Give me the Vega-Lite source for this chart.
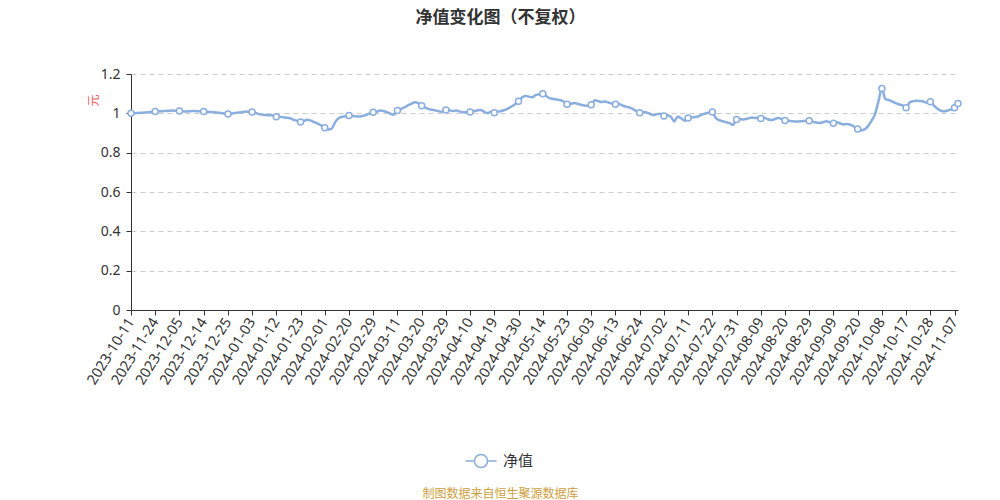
{
  "$schema": "https://vega.github.io/schema/vega-lite/v6.json",
  "width": 827,
  "height": 236,
  "autosize": {"type": "none"},
  "padding": {"left": 131, "top": 74, "right": 42, "bottom": 190},
  "background": "white",
  "config": {
    "font": "'Noto Sans', 'Noto Sans CJK SC', sans-serif",
    "view": {"stroke": null}
  },
  "title": {
    "text": "净值变化图（不复权）",
    "anchor": "middle",
    "frame": "group",
    "dx": -44,
    "offset": 40,
    "fontSize": 17,
    "fontWeight": "bold",
    "font": "'Noto Sans CJK SC', sans-serif",
    "color": "#333333"
  },
  "data": {
    "values": [
      {"date": "2023-10-11", "nav": 1.000}, {"date": "2023-10-13", "nav": 1.001}, {"date": "2023-10-20", "nav": 1.002},
      {"date": "2023-10-27", "nav": 1.003}, {"date": "2023-11-03", "nav": 1.004}, {"date": "2023-11-10", "nav": 1.005},
      {"date": "2023-11-17", "nav": 1.007}, {"date": "2023-11-24", "nav": 1.009}, {"date": "2023-11-27", "nav": 1.010},
      {"date": "2023-11-28", "nav": 1.011}, {"date": "2023-11-29", "nav": 1.012}, {"date": "2023-11-30", "nav": 1.013},
      {"date": "2023-12-01", "nav": 1.014}, {"date": "2023-12-04", "nav": 1.013}, {"date": "2023-12-05", "nav": 1.012},
      {"date": "2023-12-06", "nav": 1.010}, {"date": "2023-12-07", "nav": 1.009}, {"date": "2023-12-08", "nav": 1.011},
      {"date": "2023-12-11", "nav": 1.012}, {"date": "2023-12-12", "nav": 1.011}, {"date": "2023-12-13", "nav": 1.010},
      {"date": "2023-12-14", "nav": 1.009}, {"date": "2023-12-15", "nav": 1.008}, {"date": "2023-12-18", "nav": 1.007},
      {"date": "2023-12-19", "nav": 1.006}, {"date": "2023-12-20", "nav": 1.004}, {"date": "2023-12-21", "nav": 1.002},
      {"date": "2023-12-22", "nav": 0.999}, {"date": "2023-12-25", "nav": 0.997}, {"date": "2023-12-26", "nav": 0.999},
      {"date": "2023-12-27", "nav": 1.002}, {"date": "2023-12-28", "nav": 1.004}, {"date": "2023-12-29", "nav": 1.006},
      {"date": "2023-12-31", "nav": 1.009}, {"date": "2024-01-02", "nav": 1.008}, {"date": "2024-01-03", "nav": 1.007},
      {"date": "2024-01-04", "nav": 1.002}, {"date": "2024-01-05", "nav": 0.996}, {"date": "2024-01-08", "nav": 0.993},
      {"date": "2024-01-09", "nav": 0.991}, {"date": "2024-01-10", "nav": 0.990}, {"date": "2024-01-11", "nav": 0.989},
      {"date": "2024-01-12", "nav": 0.983}, {"date": "2024-01-15", "nav": 0.982}, {"date": "2024-01-16", "nav": 0.980},
      {"date": "2024-01-17", "nav": 0.978}, {"date": "2024-01-18", "nav": 0.975}, {"date": "2024-01-19", "nav": 0.967},
      {"date": "2024-01-22", "nav": 0.962}, {"date": "2024-01-23", "nav": 0.956}, {"date": "2024-01-24", "nav": 0.962},
      {"date": "2024-01-25", "nav": 0.968}, {"date": "2024-01-26", "nav": 0.963}, {"date": "2024-01-29", "nav": 0.955},
      {"date": "2024-01-30", "nav": 0.948}, {"date": "2024-01-31", "nav": 0.938}, {"date": "2024-02-01", "nav": 0.927},
      {"date": "2024-02-02", "nav": 0.918}, {"date": "2024-02-05", "nav": 0.922}, {"date": "2024-02-06", "nav": 0.955},
      {"date": "2024-02-07", "nav": 0.975}, {"date": "2024-02-08", "nav": 0.983}, {"date": "2024-02-19", "nav": 0.985},
      {"date": "2024-02-20", "nav": 0.989}, {"date": "2024-02-21", "nav": 0.987}, {"date": "2024-02-22", "nav": 0.985},
      {"date": "2024-02-23", "nav": 0.984}, {"date": "2024-02-26", "nav": 0.986}, {"date": "2024-02-27", "nav": 0.992},
      {"date": "2024-02-28", "nav": 0.999}, {"date": "2024-02-29", "nav": 1.005}, {"date": "2024-03-01", "nav": 1.008},
      {"date": "2024-03-04", "nav": 1.014}, {"date": "2024-03-05", "nav": 1.012}, {"date": "2024-03-06", "nav": 1.006},
      {"date": "2024-03-07", "nav": 0.998}, {"date": "2024-03-08", "nav": 0.993}, {"date": "2024-03-11", "nav": 1.015},
      {"date": "2024-03-12", "nav": 1.022}, {"date": "2024-03-13", "nav": 1.030}, {"date": "2024-03-14", "nav": 1.040},
      {"date": "2024-03-15", "nav": 1.048}, {"date": "2024-03-18", "nav": 1.056}, {"date": "2024-03-19", "nav": 1.052},
      {"date": "2024-03-20", "nav": 1.039}, {"date": "2024-03-21", "nav": 1.030}, {"date": "2024-03-22", "nav": 1.022},
      {"date": "2024-03-25", "nav": 1.018}, {"date": "2024-03-26", "nav": 1.015}, {"date": "2024-03-27", "nav": 1.010},
      {"date": "2024-03-28", "nav": 1.008}, {"date": "2024-03-29", "nav": 1.017}, {"date": "2024-03-31", "nav": 1.016},
      {"date": "2024-04-01", "nav": 1.012}, {"date": "2024-04-02", "nav": 1.014}, {"date": "2024-04-03", "nav": 1.009},
      {"date": "2024-04-08", "nav": 1.005}, {"date": "2024-04-09", "nav": 1.006}, {"date": "2024-04-10", "nav": 1.007},
      {"date": "2024-04-11", "nav": 1.011}, {"date": "2024-04-12", "nav": 1.014}, {"date": "2024-04-15", "nav": 1.017},
      {"date": "2024-04-16", "nav": 1.009}, {"date": "2024-04-17", "nav": 1.001}, {"date": "2024-04-18", "nav": 1.008},
      {"date": "2024-04-19", "nav": 1.003}, {"date": "2024-04-22", "nav": 1.008}, {"date": "2024-04-23", "nav": 1.012},
      {"date": "2024-04-24", "nav": 1.017}, {"date": "2024-04-25", "nav": 1.025}, {"date": "2024-04-26", "nav": 1.035},
      {"date": "2024-04-29", "nav": 1.046}, {"date": "2024-04-30", "nav": 1.061}, {"date": "2024-05-06", "nav": 1.080},
      {"date": "2024-05-07", "nav": 1.088}, {"date": "2024-05-08", "nav": 1.085}, {"date": "2024-05-09", "nav": 1.082},
      {"date": "2024-05-10", "nav": 1.094}, {"date": "2024-05-13", "nav": 1.096}, {"date": "2024-05-14", "nav": 1.100},
      {"date": "2024-05-15", "nav": 1.088}, {"date": "2024-05-16", "nav": 1.077}, {"date": "2024-05-17", "nav": 1.073},
      {"date": "2024-05-20", "nav": 1.070}, {"date": "2024-05-21", "nav": 1.068}, {"date": "2024-05-22", "nav": 1.060},
      {"date": "2024-05-23", "nav": 1.046}, {"date": "2024-05-24", "nav": 1.048}, {"date": "2024-05-27", "nav": 1.052},
      {"date": "2024-05-28", "nav": 1.049}, {"date": "2024-05-29", "nav": 1.044}, {"date": "2024-05-30", "nav": 1.040},
      {"date": "2024-05-31", "nav": 1.038}, {"date": "2024-06-03", "nav": 1.044}, {"date": "2024-06-04", "nav": 1.066},
      {"date": "2024-06-05", "nav": 1.062}, {"date": "2024-06-06", "nav": 1.058}, {"date": "2024-06-07", "nav": 1.060},
      {"date": "2024-06-11", "nav": 1.055}, {"date": "2024-06-12", "nav": 1.050}, {"date": "2024-06-13", "nav": 1.046},
      {"date": "2024-06-14", "nav": 1.048}, {"date": "2024-06-17", "nav": 1.040}, {"date": "2024-06-18", "nav": 1.034},
      {"date": "2024-06-19", "nav": 1.030}, {"date": "2024-06-20", "nav": 1.022}, {"date": "2024-06-21", "nav": 1.012},
      {"date": "2024-06-24", "nav": 1.003}, {"date": "2024-06-25", "nav": 1.007}, {"date": "2024-06-26", "nav": 1.004},
      {"date": "2024-06-27", "nav": 0.998}, {"date": "2024-06-28", "nav": 0.991}, {"date": "2024-06-30", "nav": 0.996},
      {"date": "2024-07-01", "nav": 0.998}, {"date": "2024-07-02", "nav": 0.986}, {"date": "2024-07-03", "nav": 0.990},
      {"date": "2024-07-04", "nav": 0.983}, {"date": "2024-07-05", "nav": 0.959}, {"date": "2024-07-08", "nav": 0.983},
      {"date": "2024-07-09", "nav": 0.975}, {"date": "2024-07-10", "nav": 0.962}, {"date": "2024-07-11", "nav": 0.976},
      {"date": "2024-07-12", "nav": 0.980}, {"date": "2024-07-15", "nav": 0.981}, {"date": "2024-07-16", "nav": 0.985},
      {"date": "2024-07-17", "nav": 0.993}, {"date": "2024-07-18", "nav": 0.999}, {"date": "2024-07-19", "nav": 1.003},
      {"date": "2024-07-22", "nav": 1.007}, {"date": "2024-07-23", "nav": 0.976}, {"date": "2024-07-24", "nav": 0.965},
      {"date": "2024-07-25", "nav": 0.960}, {"date": "2024-07-26", "nav": 0.955}, {"date": "2024-07-29", "nav": 0.950},
      {"date": "2024-07-30", "nav": 0.941}, {"date": "2024-07-31", "nav": 0.969}, {"date": "2024-08-01", "nav": 0.970},
      {"date": "2024-08-02", "nav": 0.969}, {"date": "2024-08-05", "nav": 0.972}, {"date": "2024-08-06", "nav": 0.977},
      {"date": "2024-08-07", "nav": 0.978}, {"date": "2024-08-08", "nav": 0.976}, {"date": "2024-08-09", "nav": 0.974},
      {"date": "2024-08-12", "nav": 0.978}, {"date": "2024-08-13", "nav": 0.970}, {"date": "2024-08-14", "nav": 0.966},
      {"date": "2024-08-15", "nav": 0.970}, {"date": "2024-08-16", "nav": 0.976}, {"date": "2024-08-19", "nav": 0.972},
      {"date": "2024-08-20", "nav": 0.964}, {"date": "2024-08-21", "nav": 0.962}, {"date": "2024-08-22", "nav": 0.960},
      {"date": "2024-08-23", "nav": 0.958}, {"date": "2024-08-26", "nav": 0.959}, {"date": "2024-08-27", "nav": 0.960},
      {"date": "2024-08-28", "nav": 0.961}, {"date": "2024-08-29", "nav": 0.962}, {"date": "2024-08-30", "nav": 0.958},
      {"date": "2024-09-02", "nav": 0.953}, {"date": "2024-09-03", "nav": 0.951}, {"date": "2024-09-04", "nav": 0.955},
      {"date": "2024-09-05", "nav": 0.960}, {"date": "2024-09-06", "nav": 0.954}, {"date": "2024-09-09", "nav": 0.950},
      {"date": "2024-09-10", "nav": 0.955}, {"date": "2024-09-11", "nav": 0.948}, {"date": "2024-09-12", "nav": 0.944},
      {"date": "2024-09-13", "nav": 0.946}, {"date": "2024-09-18", "nav": 0.941}, {"date": "2024-09-19", "nav": 0.932},
      {"date": "2024-09-20", "nav": 0.920}, {"date": "2024-09-23", "nav": 0.913}, {"date": "2024-09-24", "nav": 0.918},
      {"date": "2024-09-25", "nav": 0.935}, {"date": "2024-09-26", "nav": 0.962}, {"date": "2024-09-27", "nav": 0.995},
      {"date": "2024-09-30", "nav": 1.060}, {"date": "2024-10-08", "nav": 1.126}, {"date": "2024-10-09", "nav": 1.072},
      {"date": "2024-10-10", "nav": 1.068}, {"date": "2024-10-11", "nav": 1.060}, {"date": "2024-10-14", "nav": 1.052},
      {"date": "2024-10-15", "nav": 1.045}, {"date": "2024-10-16", "nav": 1.040}, {"date": "2024-10-17", "nav": 1.028},
      {"date": "2024-10-18", "nav": 1.055}, {"date": "2024-10-21", "nav": 1.062}, {"date": "2024-10-22", "nav": 1.064},
      {"date": "2024-10-23", "nav": 1.063}, {"date": "2024-10-24", "nav": 1.060}, {"date": "2024-10-25", "nav": 1.054},
      {"date": "2024-10-28", "nav": 1.059}, {"date": "2024-10-29", "nav": 1.040}, {"date": "2024-10-30", "nav": 1.025},
      {"date": "2024-10-31", "nav": 1.014}, {"date": "2024-11-04", "nav": 1.010}, {"date": "2024-11-05", "nav": 1.014},
      {"date": "2024-11-06", "nav": 1.020}, {"date": "2024-11-07", "nav": 1.029}, {"date": "2024-11-08", "nav": 1.050}
    ]
  },
  "encoding": {
    "x": {
      "field": "date",
      "type": "ordinal",
      "sort": null,
      "scale": {"type": "point", "padding": 0},
      "axis": {
        "values": [
          "2023-10-11", "2023-11-24", "2023-12-05", "2023-12-14", "2023-12-25", "2024-01-03", "2024-01-12",
          "2024-01-23", "2024-02-01", "2024-02-20", "2024-02-29", "2024-03-11", "2024-03-20", "2024-03-29",
          "2024-04-10", "2024-04-19", "2024-04-30", "2024-05-14", "2024-05-23", "2024-06-03", "2024-06-13",
          "2024-06-24", "2024-07-02", "2024-07-11", "2024-07-22", "2024-07-31", "2024-08-09", "2024-08-20",
          "2024-08-29", "2024-09-09", "2024-09-20", "2024-10-08", "2024-10-17", "2024-10-28", "2024-11-07"
        ],
        "labelAngle": -58,
        "labelFontSize": 14.5,
        "labelColor": "#333333",
        "labelPadding": 4,
        "labelOverlap": false,
        "domainColor": "#333333",
        "domainWidth": 1,
        "tickColor": "#333333",
        "tickSize": 5,
        "grid": false,
        "title": "制图数据来自恒生聚源数据库",
        "titleColor": "#d0a040",
        "titleFont": "'Noto Sans CJK SC', sans-serif",
        "titleFontSize": 12,
        "titleFontWeight": "normal",
        "titleX": 369,
        "titleY": 183,
        "titleBaseline": "middle",
        "titleAlign": "center"
      }
    },
    "y": {
      "field": "nav",
      "type": "quantitative",
      "scale": {"domain": [0, 1.2], "nice": false, "zero": true},
      "axis": {
        "values": [0, 0.2, 0.4, 0.6, 0.8, 1, 1.2],
        "format": "~g",
        "labelFontSize": 14,
        "labelColor": "#333333",
        "labelPadding": 6,
        "domainColor": "#333333",
        "tickColor": "#333333",
        "tickSize": 5,
        "grid": true,
        "gridColor": "#cccccc",
        "gridDash": [5, 4],
        "title": "元",
        "titleColor": "#e85c5c",
        "titleFont": "'Noto Sans CJK SC', sans-serif",
        "titleFontSize": 12,
        "titleFontWeight": "normal",
        "titleX": -38,
        "titleY": 26,
        "titleAlign": "center",
        "titleBaseline": "middle"
      }
    }
  },
  "layer": [
    {
      "mark": {"type": "line", "interpolate": "monotone", "strokeWidth": 2.5},
      "encoding": {
        "color": {
          "datum": "净值",
          "type": "nominal",
          "scale": {"range": ["#8aaede"]},
          "legend": {
            "orient": "none",
            "legendX": 336,
            "legendY": 373,
            "title": null,
            "symbolType": "M-1.2,0L-0.5,0M0.5,0L1.2,0M-0.5,0A0.5,0.5,0,1,1,0.5,0A0.5,0.5,0,1,1,-0.5,0",
            "symbolSize": 676,
            "symbolStrokeWidth": 1.5,
            "symbolFillColor": "white",
            "labelFont": "'Noto Sans CJK SC', sans-serif",
            "labelFontSize": 15,
            "labelColor": "#333333",
            "labelOffset": 8
          }
        }
      }
    },
    {
      "transform": [
        {"window": [{"op": "row_number", "as": "rn"}]},
        {"filter": "(datum.rn - 1) % 7 == 0 || datum.rn == 240"}
      ],
      "mark": {"type": "point", "filled": true, "fill": "white", "stroke": "#8aaede", "strokeWidth": 1.5, "size": 36, "opacity": 1}
    }
  ]
}
